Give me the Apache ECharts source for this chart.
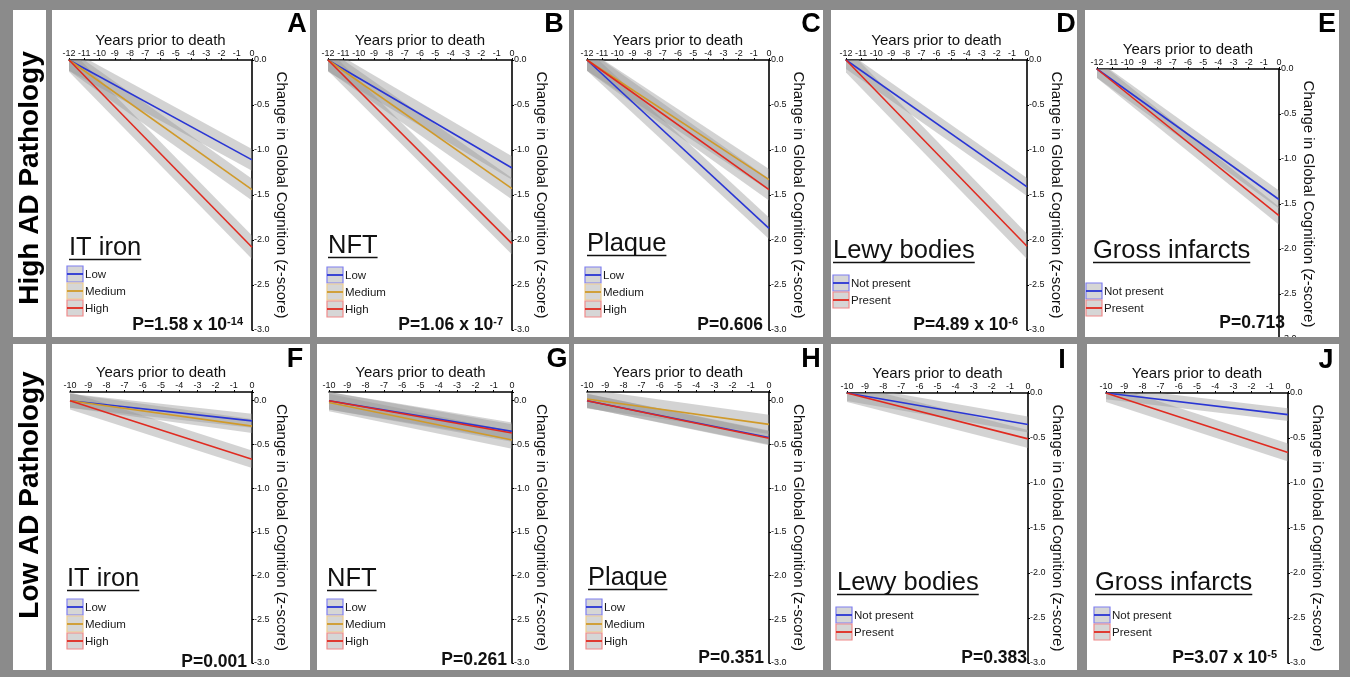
<!DOCTYPE html>
<html>
<head>
<meta charset="utf-8">
<title>Cognitive decline by neuropathology</title>
<script src="https://cdn.jsdelivr.net/npm/echarts@6/dist/echarts.min.js"></script>
<style>
  html, body { margin: 0; padding: 0; background: #8b8b8b; }
  #chart { width: 1350px; height: 677px; }
</style>
</head>
<body>
<div id="chart"></div>
<script>
// ---------------- data ----------------
const panelLetters = ['A', 'B', 'C', 'D', 'E', 'F', 'G', 'H', 'I', 'J'];
const pathologyRows = ['High AD Pathology', 'Low AD Pathology'];
const factorTitles = ['IT iron', 'NFT', 'Plaque', 'Lewy bodies', 'Gross infarcts',
                      'IT iron', 'NFT', 'Plaque', 'Lewy bodies', 'Gross infarcts'];
const threeLevels = ['Low', 'Medium', 'High'];
const twoLevels = ['Not present', 'Present'];
const firstYear = [-12, -12, -12, -12, -12, -10, -10, -10, -10, -10];
const yTop = [0, 0, 0, 0, 0, 0.1, 0.1, 0.1, 0, 0];
const yBottom = -3;

// fitted change in global cognition at the first and last year, and band half-width
const startA = [0, 0, 0],     endA = [-1.11, -1.44, -2.08], bandA = [0.12, 0.12, 0.13];
const startB = [0, 0, 0],     endB = [-1.20, -1.43, -2.04], bandB = [0.13, 0.12, 0.12];
const startC = [0, 0, 0],     endC = [-1.87, -1.33, -1.44], bandC = [0.12, 0.12, 0.12];
const startD = [0, 0],        endD = [-1.41, -2.07],        bandD = [0.10, 0.14];
const startE = [0, 0],        endE = [-1.45, -1.63],        bandE = [0.10, 0.10];
const startF = [0, 0, 0],     endF = [-0.23, -0.29, -0.67], bandF = [0.08, 0.08, 0.10];
const startG = [0, -0.02, 0], endG = [-0.35, -0.45, -0.37], bandG = [0.10, 0.10, 0.10];
const startH = [0, 0.02, 0],  endH = [-0.42, -0.27, -0.43], bandH = [0.08, 0.11, 0.08];
const startI = [0, 0],        endI = [-0.35, -0.51],        bandI = [0.09, 0.10];
const startJ = [0, 0],        endJ = [-0.24, -0.66],        bandJ = [0.07, 0.10];

const pBase = ['P=1.58 x 10', 'P=1.06 x 10', 'P=0.606', 'P=4.89 x 10', 'P=0.713',
               'P=0.001', 'P=0.261', 'P=0.351', 'P=0.383', 'P=3.07 x 10'];
const pExponent = ['-14', '-7', '', '-6', '', '', '', '', '', '-5'];

const panelStart = [startA, startB, startC, startD, startE, startF, startG, startH, startI, startJ];
const panelEnd = [endA, endB, endC, endD, endE, endF, endG, endH, endI, endJ];
const panelBand = [bandA, bandB, bandC, bandD, bandE, bandF, bandG, bandH, bandI, bandJ];
const panelLevels = [threeLevels, threeLevels, threeLevels, twoLevels, twoLevels,
                     threeLevels, threeLevels, threeLevels, twoLevels, twoLevels];

// ---------------- layout ----------------
const FONT = '"Liberation Sans", Arial, Helvetica, sans-serif';
const GREY = '#8b8b8b';
const INK = '#111';
const LINE3 = ['#2a36d4', '#d09a2a', '#e02a20'];
const LINE2 = ['#2a36d4', '#e02a20'];
const EDGE3 = ['#7f7ff0', '#efcd8e', '#f08a8a'];
const EDGE2 = ['#7f7ff0', '#f08a8a'];
const BAND_FILL = 'rgba(150,150,150,0.42)';

const rowFrames = [[13, 10, 46, 337], [13, 344, 46, 670]];
const rowLabelAt = [[30, 178], [30, 495]];
const frames = [
  [52, 10, 310, 337], [317, 10, 569, 337], [574, 10, 823, 337], [831, 10, 1077, 337], [1085, 10, 1339, 337],
  [52, 344, 310, 670], [317, 344, 569, 670], [574, 344, 823, 670], [831, 344, 1077, 670], [1087, 344, 1339, 670]
];
// plot area: left, top, width, height
const plotBoxes = [
  [69, 60, 183, 270], [328, 60, 184, 270], [587, 60, 182, 270], [846, 60, 181, 270], [1097, 69, 182, 270],
  [70, 392, 182, 271], [329, 392, 183, 271], [587, 392, 182, 271], [847, 393, 181, 270], [1106, 393, 182, 270]
];
const letterAt = [[297, 25], [554, 25], [811, 25], [1066, 25], [1327, 25],
                  [295, 360], [557, 360], [811, 360], [1062, 361], [1326, 361]];
const titleAt = [[69, 257], [328, 255], [587, 253], [833, 260], [1093, 260],
                 [67, 588], [327, 588], [588, 587], [837, 592], [1095, 592]];
const legendAt = [[67, 274], [327, 275], [585, 275], [833, 283], [1086, 291],
                  [67, 607], [327, 607], [586, 607], [836, 615], [1094, 615]];
const LEGEND_STEP = 17;
const BOX = 16;
const pAt = [[243, 325], [503, 325], [763, 325], [1018, 325], [1285, 323],
             [247, 662], [507, 660], [764, 658], [1027, 658], [1277, 658]];

const measureCtx = document.createElement('canvas').getContext('2d');
function textWidth(str, font) {
  measureCtx.font = font;
  return measureCtx.measureText(str).width;
}

function textStyle(extra) {
  const s = Object.assign({ fontFamily: FONT, fill: INK }, extra);
  if (s.align) s.textAlign = s.align;
  if (s.verticalAlign) s.textVerticalAlign = s.verticalAlign;
  return s;
}

// ---------------- build ----------------
const graphics = [];
rowFrames.forEach((f, r) => {
  graphics.push({ type: 'rect', silent: true, z: 1,
    shape: { x: f[0], y: f[1], width: f[2] - f[0], height: f[3] - f[1] }, style: { fill: '#fff' } });
  graphics.push({ type: 'text', silent: true, z: 8, x: rowLabelAt[r][0], y: rowLabelAt[r][1], rotation: Math.PI / 2,
    style: textStyle({ text: pathologyRows[r], fontSize: 28, fontWeight: 'bold', fill: '#000',
      align: 'center', verticalAlign: 'middle' }) });
});

const grids = [], xAxes = [], yAxes = [], series = [];

for (let i = 0; i < panelLetters.length; i++) {
  const f = frames[i];
  graphics.push({ type: 'rect', silent: true, z: 1,
    shape: { x: f[0], y: f[1], width: f[2] - f[0], height: f[3] - f[1] }, style: { fill: '#fff' } });

  // panel letter
  graphics.push({ type: 'text', silent: true, z: 8, x: letterAt[i][0], y: letterAt[i][1],
    style: textStyle({ text: panelLetters[i], fontSize: 27, fontWeight: 'bold', fill: '#000',
      align: 'center', verticalAlign: 'middle' }) });

  // underlined factor title
  const tSize = 25.5;
  const tw = textWidth(factorTitles[i], tSize + 'px ' + FONT);
  graphics.push({ type: 'text', silent: true, z: 8, x: titleAt[i][0], y: titleAt[i][1] - 0.35 * tSize,
    style: textStyle({ text: factorTitles[i], fontSize: tSize, align: 'left', verticalAlign: 'middle' }) });
  graphics.push({ type: 'line', silent: true, z: 8,
    shape: { x1: titleAt[i][0], y1: titleAt[i][1] + 2.5, x2: titleAt[i][0] + tw, y2: titleAt[i][1] + 2.5 },
    style: { stroke: INK, lineWidth: 1.5 } });

  // legend
  const levels = panelLevels[i];
  const lineCols = levels.length === 3 ? LINE3 : LINE2;
  const edgeCols = levels.length === 3 ? EDGE3 : EDGE2;
  levels.forEach((name, k) => {
    const bx = legendAt[i][0], cy = legendAt[i][1] + k * LEGEND_STEP;
    graphics.push({ type: 'rect', silent: true, z: 8,
      shape: { x: bx, y: cy - BOX / 2, width: BOX, height: BOX },
      style: { fill: '#d6d6d6', stroke: edgeCols[k], lineWidth: 1.2 } });
    graphics.push({ type: 'line', silent: true, z: 8,
      shape: { x1: bx, y1: cy, x2: bx + BOX, y2: cy }, style: { stroke: lineCols[k], lineWidth: 1.8 } });
    graphics.push({ type: 'text', silent: true, z: 8, x: bx + BOX + 2, y: cy + 0.5,
      style: textStyle({ text: name, fontSize: 11.5, fill: '#1a1a1a', align: 'left', verticalAlign: 'middle' }) });
  });

  // p-value
  const pText = pExponent[i] ? '{a|' + pBase[i] + '}{b|' + pExponent[i] + '}' : '{a|' + pBase[i] + '}';
  graphics.push({ type: 'text', silent: true, z: 8, x: pAt[i][0], y: pAt[i][1],
    style: textStyle({ text: pText, align: 'right', verticalAlign: 'middle',
      rich: {
        a: { fontSize: 17.5, fontWeight: 'bold', fontFamily: FONT, fill: INK, lineHeight: 17 },
        b: { fontSize: 11, fontWeight: 'bold', fontFamily: FONT, fill: INK, lineHeight: 10, verticalAlign: 'top' }
      } }) });

  // axes
  const pb = plotBoxes[i];
  grids.push({ left: pb[0], top: pb[1], width: pb[2], height: pb[3], containLabel: false });
  xAxes.push({
    gridIndex: i, type: 'value', position: 'top', min: firstYear[i], max: 0, interval: 1, z: 3,
    name: 'Years prior to death', nameLocation: 'middle', nameGap: 11,
    nameTextStyle: { fontSize: 15, color: INK, fontFamily: FONT },
    axisLine: { show: true, onZero: false, lineStyle: { color: '#000', width: 1.6 } },
    axisTick: { show: true, inside: false, length: 2, lineStyle: { color: '#000', width: 1 } },
    axisLabel: { show: true, fontSize: 9, margin: 2, color: INK, fontFamily: FONT, hideOverlap: false },
    splitLine: { show: false }
  });
  yAxes.push({
    gridIndex: i, type: 'value', position: 'right', min: yBottom, max: yTop[i], interval: 0.5, z: 3,
    name: 'Change in Global Cognition (z-score)', nameLocation: 'middle', nameRotate: -90, nameGap: 20,
    nameTextStyle: { fontSize: 15, color: INK, fontFamily: FONT },
    axisLine: { show: true, onZero: false, lineStyle: { color: '#000', width: 1.6 } },
    axisTick: { show: true, inside: false, length: 2, lineStyle: { color: '#000', width: 1 } },
    axisLabel: { show: true, fontSize: 9, margin: 2, color: INK, fontFamily: FONT,
      formatter: v => (v > 0.001 ? '' : v.toFixed(1)) },
    splitLine: { show: false }
  });

  // confidence bands
  const x0 = firstYear[i];
  const st = panelStart[i], en = panelEnd[i], bw = panelBand[i];
  const bandData = levels.map((_, k) => [x0, 0, st[k] - bw[k], st[k] + bw[k], en[k] - bw[k], en[k] + bw[k]]);
  series.push({
    type: 'custom', xAxisIndex: i, yAxisIndex: i, z: 4, silent: true,
    encode: { x: [0, 1], y: [2, 3, 4, 5] },
    data: bandData,
    renderItem: function (params, api) {
      const p1 = api.coord([api.value(0), api.value(2)]);
      const p2 = api.coord([api.value(1), api.value(4)]);
      const p3 = api.coord([api.value(1), api.value(5)]);
      const p4 = api.coord([api.value(0), api.value(3)]);
      const cs = params.coordSys;
      return {
        type: 'polygon',
        shape: { points: [p1, p2, p3, p4] },
        style: { fill: BAND_FILL },
        clipPath: { type: 'rect', shape: { x: cs.x, y: cs.y, width: cs.width, height: cs.height } }
      };
    }
  });

  // fitted trajectories
  levels.forEach((name, k) => {
    series.push({
      type: 'line', name: name, xAxisIndex: i, yAxisIndex: i, z: 5, silent: true,
      symbol: 'none', clip: true,
      data: [[x0, st[k]], [0, en[k]]],
      lineStyle: { color: lineCols[k], width: 1.6 }
    });
  });
}

// trim the overhang of panel E's axis into the row gap
graphics.push({ type: 'rect', silent: true, z: 9,
  shape: { x: 1080, y: 337, width: 265, height: 7 }, style: { fill: GREY } });

const chart = echarts.init(document.getElementById('chart'));
chart.setOption({
  animation: false,
  backgroundColor: GREY,
  graphic: { elements: graphics },
  grid: grids,
  xAxis: xAxes,
  yAxis: yAxes,
  series: series
});
</script>
</body>
</html>
